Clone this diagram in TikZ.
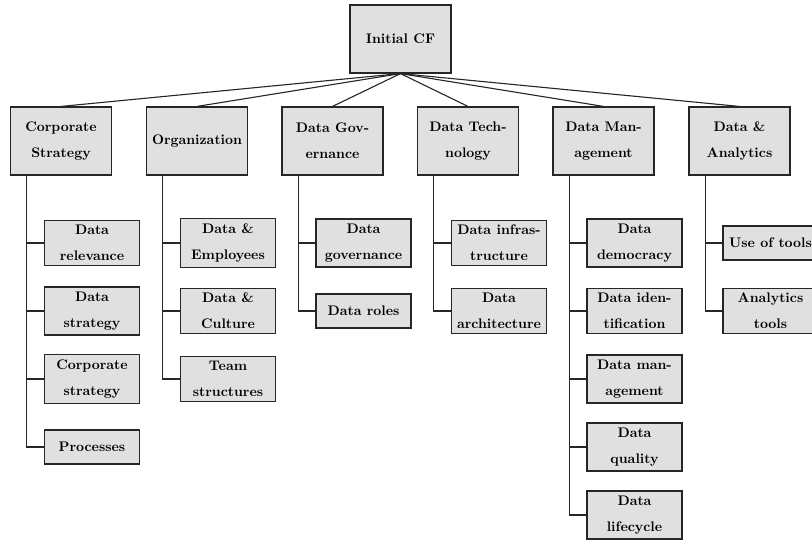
\documentclass[tikz,border=0pt]{standalone}
\begin{document}
\begin{tikzpicture}[x=0.72pt,y=-0.72pt,
  box/.style={draw=black!85, fill=black!12, line width=0.8pt, align=center,
    font=\bfseries\fontsize{10}{18.7}\selectfont, inner xsep=2pt, inner ysep=3.5pt},
  topbox/.style={box, minimum width=72.7pt, minimum height=49pt},
  leaf/.style={box, minimum width=68.4pt, minimum height=24.5pt},
  link/.style={draw=black!85, line width=0.8pt}]
\useasboundingbox (0,0) rectangle (812,540);

% root and first level
\node[topbox] (root) at (400.5,39) {Initial CF};
\node[topbox] (cs)   at (61,141)    {Corporate\\Strategy};
\node[topbox] (org)  at (197,141)   {Organization};
\node[topbox] (gov)  at (332.5,141) {Data Gov-\\ernance};
\node[topbox] (tech) at (468,141)   {Data Tech-\\nology};
\node[topbox] (man)  at (603.5,141) {Data Man-\\agement};
\node[topbox] (ana)  at (739.5,141) {Data \&\\Analytics};

\foreach \c in {cs,org,gov,tech,man,ana}
  \draw[link] (root.south) -- (\c.north);

% Corporate Strategy
\node[leaf] (cs1) at (92,243) {Data\\relevance};
\node[leaf] (cs2) at (92,311) {Data\\strategy};
\node[leaf] (cs3) at (92,379) {Corporate\\strategy};
\node[leaf] (cs4) at (92,447) {Processes};

% Organization
\node[leaf] (org1) at (228,243) {Data \&\\Employees};
\node[leaf] (org2) at (228,311) {Data \&\\Culture};
\node[leaf] (org3) at (228,379) {Team\\structures};

% Data Governance
\node[leaf] (gov1) at (363.5,243) {Data\\governance};
\node[leaf] (gov2) at (363.5,311) {Data roles};

% Data Technology
\node[leaf] (tech1) at (499,243) {Data infras-\\tructure};
\node[leaf] (tech2) at (499,311) {Data\\architecture};

% Data Management
\node[leaf] (man1) at (634.5,243) {Data\\democracy};
\node[leaf] (man2) at (634.5,311) {Data iden-\\tification};
\node[leaf] (man3) at (634.5,379) {Data man-\\agement};
\node[leaf] (man4) at (634.5,447) {Data\\quality};
\node[leaf] (man5) at (634.5,515) {Data\\lifecycle};

% Data & Analytics
\node[leaf] (ana1) at (770.5,243) {Use of tools};
\node[leaf] (ana2) at (770.5,311) {Analytics\\tools};

% elbow connectors from each parent to its children
\foreach \p/\kids in {cs/{cs1,cs2,cs3,cs4}, org/{org1,org2,org3},
    gov/{gov1,gov2}, tech/{tech1,tech2},
    man/{man1,man2,man3,man4,man5}, ana/{ana1,ana2}}
  \foreach \k in \kids
    \draw[link] ([xshift=12.2pt]\p.south west) |- (\k.west);
\end{tikzpicture}
\end{document}
